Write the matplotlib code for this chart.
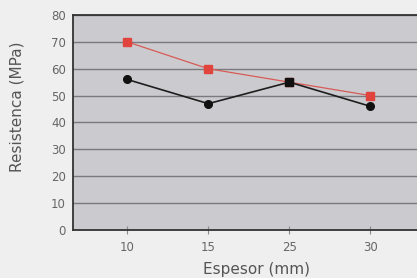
import matplotlib
matplotlib.use("Agg")
import matplotlib.pyplot as plt

categories = ["10", "15", "25", "30"]
red_values = [70, 60, 55, 50]
black_values = [56, 47, 55, 46]
black_markers = ["o", "o", "s", "o"]
y_ticks = [0, 10, 20, 30, 40, 50, 60, 70, 80]

fig = plt.figure(figsize=(4.17, 2.78), dpi=100, facecolor="#efefef")
ax = fig.add_axes([0.175, 0.173, 0.83, 0.773])
ax.set_facecolor("#cbcbcf")
x = list(range(len(categories)))

ax.plot(x, red_values, color="#d85a55", lw=0.9, marker="s", ms=6,
        mfc="#e0443c", mec="#e0443c", zorder=3)
ax.plot(x, black_values, color="#1e1e1e", lw=1.2, zorder=4)
for xi, yi, m in zip(x, black_values, black_markers):
    ax.plot([xi], [yi], marker=m, color="#111111", ms=5.5 if m == "o" else 6, zorder=5)

ax.set_ylim(0, 80)
ax.set_xlim(-0.67, 3.6)
ax.set_yticks(y_ticks)
ax.set_xticks(x)
ax.set_xticklabels(categories)
ax.yaxis.grid(True, color="#7a7a7e", lw=1.0)
ax.set_axisbelow(True)
for s in ["left", "bottom", "top"]:
    ax.spines[s].set_color("#333333")
    ax.spines[s].set_linewidth(1.3)
ax.spines["right"].set_visible(False)
ax.tick_params(axis="y", length=0, labelsize=8.5, labelcolor="#666666", pad=5)
ax.tick_params(axis="x", direction="inout", length=6, color="#888888",
               labelsize=8.5, labelcolor="#666666", pad=5)
ax.set_xlabel("Espesor (mm)", fontsize=11, color="#555555", va="center")
ax.set_ylabel("Resistenca (MPa)", fontsize=11, color="#555555", va="center")
ax.xaxis.set_label_coords(0.529, -0.186)
ax.yaxis.set_label_coords(-0.162, 0.572)

fig.savefig("out.png", dpi=100, facecolor=fig.get_facecolor())
